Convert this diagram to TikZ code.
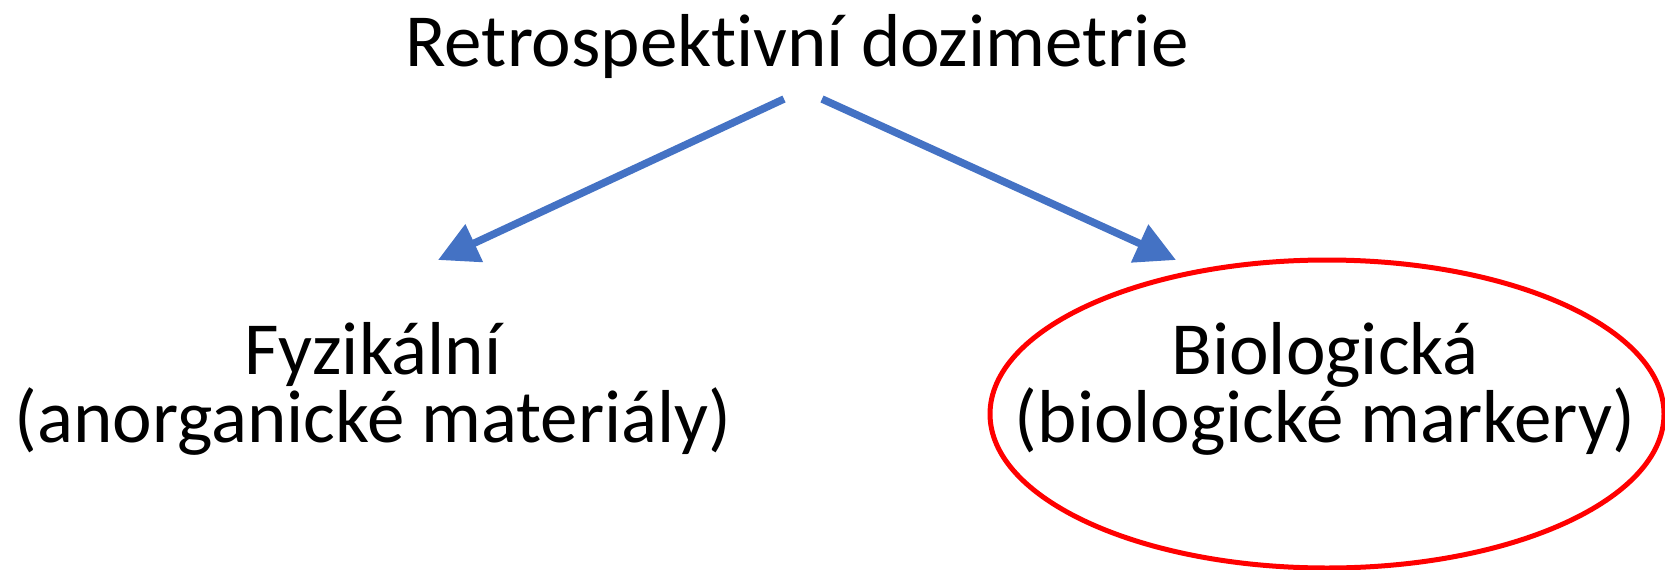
\documentclass[tikz,border=0pt]{standalone}
\usepackage{fontspec}
\setmainfont{Carlito}[RawFeature=-liga]
\usetikzlibrary{arrows.meta}
\definecolor{arrowblue}{HTML}{4472C4}
\definecolor{ringred}{HTML}{FF0000}

\begin{document}
\begin{tikzpicture}[x=1pt, y=-1pt,
  label/.style={font=\fontsize{75}{68}\selectfont, align=center, inner sep=0pt, anchor=base},
  link/.style={draw=arrowblue, line width=7.5pt, -{Triangle[length=40pt, width=40pt]}},
  ring/.style={draw=ringred, line width=5pt}]
  \useasboundingbox (0,0) rectangle (1665,570);
  \clip (0,0) rectangle (1665,570);

  % headings (base anchor sits on the last line)
  \node[label] (root) at (797,66) {Retrospektivní dozimetrie};
  \node[label] (phys) at (373,442) {Fyzikální\\(anorganické materiály)};
  \node[label] (bio)  at (1325,442) {Biologická\\(biologické markery)};

  % highlight around the biological branch
  \draw[ring] (1327,414) ellipse [x radius=337, y radius=154];

  % connector ends
  \coordinate (rootL) at (784,99);
  \coordinate (rootR) at (822,99);
  \coordinate (physTip) at (438,260);
  \coordinate (bioTip) at (1176,260);

  \draw[link] (rootL) -- (physTip);
  \draw[link] (rootR) -- (bioTip);
\end{tikzpicture}
\end{document}
